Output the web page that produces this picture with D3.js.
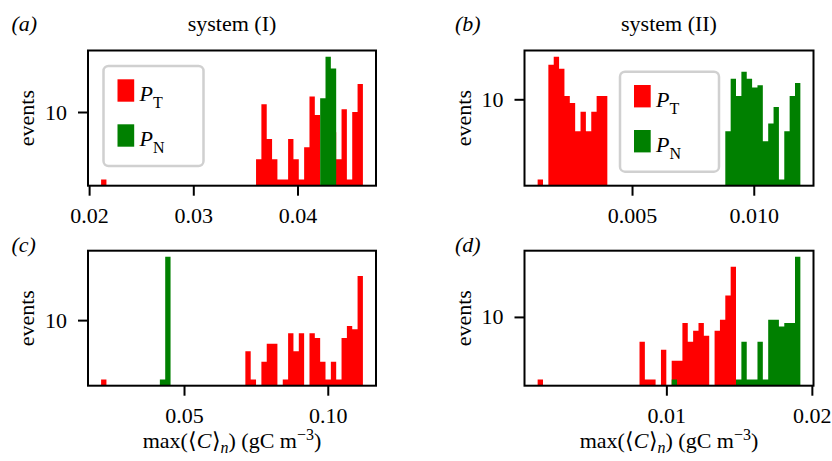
<!DOCTYPE html>
<html>
<head>
<meta charset="utf-8">
<script src="https://cdn.jsdelivr.net/npm/d3@7"></script>
<style>
  html, body { margin: 0; padding: 0; background: #fff; }
  svg { display: block; font-family: "Liberation Serif", "Times New Roman", serif; }
</style>
</head>
<body>
<svg id="fig" width="832" height="461"></svg>
<script>
// Event counts per bin (49 equal bins between binLo and binHi of each panel)
const countsT_a = [1,0,0,0,0,0,0,0,0,0, 0,0,0,0,0,0,0,0,0,0, 0,0,0,0,0,0,0,0,0,2,
                   13,4,2,1,1,4,2,1,3,17, 9,0,0,5,2,11,1,10,26];
const countsN_a = [0,0,0,0,0,0,0,0,0,0, 0,0,0,0,0,0,0,0,0,0, 0,0,0,0,0,0,0,0,0,0,
                   0,0,0,0,0,0,0,0,0,0, 0,16,66,44,0,0,0,0,0];
const countsT_b = [1,0,27,34,24,11,9,4,7,4, 7,11,11,0,0,0,0,0,0,0, 0,0,0,0,0,0,0,0,0,0,
                   0,0,0,0,0,0,0,0,0,0, 0,0,0,0,0,0,0,0,0];
const countsN_b = [0,0,0,0,0,0,0,0,0,0, 0,0,0,0,0,0,0,0,0,0, 0,0,0,0,0,0,0,0,0,0,
                   0,0,0,0,0,4,18,11,22,18, 14,15,3,5,8,1,4,11,16];
const countsT_c = [1,0,0,0,0,0,0,0,0,0, 0,0,0,0,0,0,0,0,0,0, 0,0,0,0,0,0,0,3,1,0,
                   2,4,4,0,1,6,3,6,0,6, 5,2,1,2,1,5,8,7,55];
const countsN_c = [0,0,0,0,0,0,0,0,0,0, 0,1,116,0,0,0,0,0,0,0, 0,0,0,0,0,0,0,0,0,0,
                   0,0,0,0,0,0,0,0,0,0, 0,0,0,0,0,0,0,0,0];
const countsT_d = [1,0,0,0,0,0,0,0,0,0, 0,0,0,0,0,0,0,0,0,4, 1,1,0,3,0,2,2,8,4,6,
                   8,5,0,6,9,22,63,0,0,0, 0,0,0,0,0,0,0,0,0];
const countsN_d = [0,0,0,0,0,0,0,0,0,0, 0,0,0,0,0,0,0,0,0,0, 0,0,0,0,0,1,0,0,0,0,
                   0,0,0,0,0,0,0,1,4,1, 1,4,1,9,9,7,8,8,91];

// Bin range of each panel (a, b, c, d), in gC m^-3
const binLo = [0.02115, 0.001123, 0.02116, 0.001152];
const binHi = [0.04628, 0.011914, 0.11222, 0.01921];

// Axis ticks
const xTicks_a = [0.02, 0.03, 0.04],  xTickLabels_a = ["0.02", "0.03", "0.04"];
const xTicks_b = [0.005, 0.010],      xTickLabels_b = ["0.005", "0.010"];
const xTicks_c = [0.05, 0.10],        xTickLabels_c = ["0.05", "0.10"];
const xTicks_d = [0.01, 0.02],        xTickLabels_d = ["0.01", "0.02"];
const yTicks = [10], yTickLabels = ["10"];

const panelLetters = ["(a)", "(b)", "(c)", "(d)"];
const columnTitles = ["system (I)", "system (II)"];
const seriesNames = ["T", "N"];
const seriesColors = ["#ff0000", "#008000"];

const panels = [
  { letter: panelLetters[0], T: countsT_a, N: countsN_a, lo: binLo[0], hi: binHi[0], ticks: xTicks_a, labels: xTickLabels_a },
  { letter: panelLetters[1], T: countsT_b, N: countsN_b, lo: binLo[1], hi: binHi[1], ticks: xTicks_b, labels: xTickLabels_b },
  { letter: panelLetters[2], T: countsT_c, N: countsN_c, lo: binLo[2], hi: binHi[2], ticks: xTicks_c, labels: xTickLabels_c },
  { letter: panelLetters[3], T: countsT_d, N: countsN_d, lo: binLo[3], hi: binHi[3], ticks: xTicks_d, labels: xTickLabels_d }
];

// Layout
const colLeft = [88, 524.5], colRight = [376, 813.5];
const rowTop = [50.5, 250.7], rowBottom = [185.7, 385.7];
const FS = 22, FS_SMALL = 16;

const svg = d3.select("#fig");
const defs = svg.append("defs");

panels.forEach((p, i) => {
  const c = i % 2, r = Math.floor(i / 2);
  const L = colLeft[c], R = colRight[c], T = rowTop[r], B = rowBottom[r];
  const nb = p.T.length;
  const span = p.hi - p.lo, bw = span / nb;

  const x = d3.scaleLinear()
    .domain([p.lo - 0.05 * span, p.hi + 0.05 * span])
    .range([L, R]);
  const maxCount = d3.max(p.T.concat(p.N));
  const lg = Math.log10(maxCount);
  const y = d3.scaleLog()
    .domain([Math.pow(10, -0.05 * lg), Math.pow(10, 1.05 * lg)])
    .range([B, T]);

  const clipId = "clip" + i;
  defs.append("clipPath").attr("id", clipId)
    .append("rect").attr("x", L).attr("y", T).attr("width", R - L).attr("height", B - T);

  const g = svg.append("g");
  const plot = g.append("g").attr("clip-path", `url(#${clipId})`);

  // each series is one path of bar rectangles, so neighbouring bars join without seams
  [p.T, p.N].forEach((counts, s) => {
    const path = d3.path();
    counts.forEach((v, k) => {
      if (v <= 0) return;
      const x0 = x(p.lo + k * bw), x1 = x(p.lo + (k + 1) * bw);
      path.rect(x0, y(v), x1 - x0, B + 2 - y(v));
    });
    plot.append("path").attr("d", path.toString()).attr("fill", seriesColors[s]);
  });

  // x axis
  const xa = g.append("g").attr("transform", `translate(0,${B})`)
    .call(d3.axisBottom(x).tickValues(p.ticks)
      .tickFormat((d, j) => p.labels[j]).tickSize(10).tickPadding(12));
  // y axis
  const ya = g.append("g").attr("transform", `translate(${L},0)`)
    .call(d3.axisLeft(y).tickValues(yTicks)
      .tickFormat((d, j) => yTickLabels[j]).tickSize(10).tickPadding(11));
  [xa, ya].forEach(a => {
    a.select(".domain").remove();
    a.selectAll(".tick line").attr("stroke", "#000").attr("stroke-width", 2);
    a.selectAll(".tick text").attr("fill", "#000")
      .style("font-family", '"Liberation Serif", "Times New Roman", serif')
      .style("font-size", FS + "px");
  });

  // axes frame
  g.append("rect").attr("x", L).attr("y", T).attr("width", R - L).attr("height", B - T)
    .attr("fill", "none").attr("stroke", "#000").attr("stroke-width", 2);

  // panel letter
  g.append("text").attr("x", c === 0 ? 11.5 : 455).attr("y", r === 0 ? 31 : 252)
    .style("font-size", FS + "px").style("font-style", "italic").text(p.letter);

  // y label
  g.append("text")
    .attr("transform", `translate(${L - 54},${(T + B) / 2}) rotate(-90)`)
    .attr("text-anchor", "middle").style("font-size", FS + "px").text("events");

  // column titles
  if (r === 0) {
    g.append("text").attr("x", (L + R) / 2).attr("y", 31).attr("text-anchor", "middle")
      .style("font-size", FS + "px").text(columnTitles[c]);
  }

  // x label
  if (r === 1) {
    const t = g.append("text").attr("x", (L + R) / 2).attr("y", 448)
      .attr("text-anchor", "middle").style("font-size", FS + "px");
    t.append("tspan").text("max(\u27E8");
    t.append("tspan").style("font-style", "italic").text("C");
    t.append("tspan").text("\u27E9");
    t.append("tspan").attr("dy", 5).style("font-style", "italic").style("font-size", FS_SMALL + "px").text("n");
    t.append("tspan").attr("dy", -5).text(") (gC m");
    t.append("tspan").attr("dy", -8).style("font-size", FS_SMALL + "px").text("\u22123");
    t.append("tspan").attr("dy", 8).text(")");
  }

  // legend in top row
  if (r === 0) {
    const lx = c === 0 ? 103.5 : 620, ly = c === 0 ? 66 : 71.7;
    const lg2 = g.append("g");
    lg2.append("rect").attr("x", lx).attr("y", ly).attr("width", c === 0 ? 100 : 99).attr("height", 100)
      .attr("rx", 5).attr("fill", "#fff").attr("fill-opacity", 0.8)
      .attr("stroke", "#d0d0d0").attr("stroke-width", 2.5);
    seriesNames.forEach((name, s) => {
      const py = ly + 13.3 + s * 45;
      lg2.append("rect").attr("x", lx + 14).attr("y", py).attr("width", 16.7).attr("height", 22.4)
        .attr("fill", seriesColors[s]);
      const t = lg2.append("text").attr("x", lx + 36).attr("y", py + 21.5)
        .style("font-size", FS + "px");
      t.append("tspan").style("font-style", "italic").text("P");
      t.append("tspan").attr("dy", 7).style("font-size", FS_SMALL + "px").text(name);
    });
  }
});
</script>
</body>
</html>
